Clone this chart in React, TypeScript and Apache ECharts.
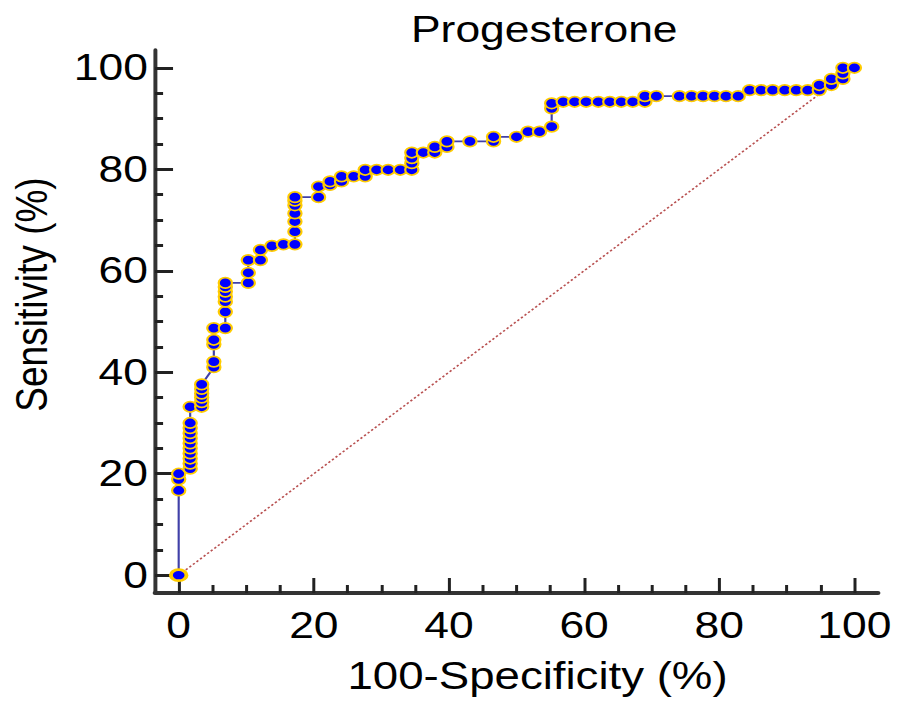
import React, { useEffect, useRef } from "react";
import * as echarts from "echarts";

// 100-Specificity (%) values of the ROC points
const fprValues = [
  0, 0, 0, 0,
  1.7, 1.7, 1.7, 1.7, 1.7, 1.7, 1.7, 1.7, 1.7, 1.7,
  1.7,
  3.4, 3.4, 3.4, 3.4, 3.4, 3.4,
  5.2, 5.2, 5.2, 5.2, 5.2,
  6.9, 6.9, 6.9, 6.9, 6.9, 6.9, 6.9,
  10.3, 10.3, 10.3,
  12.1, 12.1,
  13.8, 15.5,
  17.2, 17.2, 17.2, 17.2, 17.2, 17.2, 17.2,
  20.7, 20.7,
  22.4, 22.4,
  24.1, 24.1,
  25.9, 27.6, 27.6, 29.3, 31.0, 32.8,
  34.5, 34.5, 34.5, 34.5,
  36.2, 37.9, 37.9, 39.7, 39.7,
  43.1, 46.6, 46.6, 50.0, 51.7, 53.4,
  55.2, 55.2, 55.2,
  56.9, 58.6, 60.3, 62.1, 63.8, 65.5, 67.2, 69.0,
  69.0, 70.7,
  74.1, 75.9, 77.6, 79.3, 81.0, 82.8,
  84.5, 86.2, 87.9, 89.7, 91.4, 93.1, 94.8,
  94.8, 96.6, 96.6,
  98.3, 98.3, 98.3,
  100,
];

// Sensitivity (%) values of the ROC points
const tprValues = [
  0, 16.7, 18.9, 20.0,
  21.0, 22.0, 23.0, 24.0, 25.0, 26.0, 27.0, 28.0, 29.0, 30.0,
  33.2,
  33.2, 34.1, 35.0, 35.8, 36.7, 37.6,
  41.0, 42.1, 45.5, 46.4, 48.7,
  48.7, 51.9, 53.9, 54.9, 55.9, 56.8, 57.6,
  57.6, 59.6, 62.1,
  62.1, 64.1,
  64.9, 65.2,
  65.2, 67.7, 69.7, 71.3, 72.9, 73.8, 74.5,
  74.5, 76.6,
  76.9, 77.6,
  77.6, 78.6,
  78.6, 78.6, 79.9, 79.9, 79.9, 79.9,
  79.9, 81.2, 82.2, 83.3,
  83.3, 83.3, 84.4, 84.4, 85.5,
  85.5, 85.5, 86.4, 86.4, 87.4, 87.4,
  88.4, 92.0, 93.0,
  93.3, 93.3, 93.3, 93.3, 93.3, 93.3, 93.3, 93.3,
  94.4, 94.4,
  94.4, 94.4, 94.4, 94.4, 94.4, 94.4,
  95.6, 95.6, 95.6, 95.6, 95.6, 95.6, 95.6,
  96.6, 96.6, 97.8,
  97.8, 98.9, 100,
  100,
];

const referenceLineX = [0, 100];
const referenceLineY = [0, 100];

const xTickLabels = [0, 20, 40, 60, 80, 100];
const yTickLabels = [0, 20, 40, 60, 80, 100];
const minorTickValues = [5, 10, 15, 25, 30, 35, 45, 50, 55, 65, 70, 75, 85, 90, 95];

const ELLIPSE = "path://M0,5A5,5,0,1,1,10,5A5,5,0,1,1,0,5Z";

// The reference picture is horizontally stretched; the chart is drawn
// narrower and widened by this factor.
const STRETCH = 1.2;
const PAGE_W = 909;
const PAGE_H = 705;
const INNER_W = PAGE_W / STRETCH;

export default function App() {
  const ref = useRef<HTMLDivElement>(null);

  useEffect(() => {
    if (!ref.current) return;
    const chart = echarts.init(ref.current, null, {
      renderer: "svg",
      width: INNER_W,
      height: PAGE_H,
    });

    const rocData = fprValues.map((x, i) => {
      if (i === 0) {
        return {
          value: [x, tprValues[i]],
          symbolSize: [13, 11],
          itemStyle: { borderWidth: 3 },
        };
      }
      return { value: [x, tprValues[i]] };
    });
    const diagData = referenceLineX.map((x, i) => [x, referenceLineY[i]]);

    const font = "'Liberation Sans', Arial, sans-serif";

    chart.setOption({
      animation: false,
      backgroundColor: "#ffffff",
      title: {
        text: "Progesterone",
        left: 337.5,
        top: 6,
        textStyle: {
          fontSize: 37,
          fontFamily: font,
          fontWeight: "normal",
          color: "#000",
        },
      },
      grid: {
        left: 129.2,
        right: 25.8,
        top: 50,
        bottom: 112,
        containLabel: false,
        outerBoundsMode: "none",
      },
      xAxis: [
        {
          type: "value",
          min: -3.5,
          max: 103.5,
          position: "bottom",
          axisLine: { show: true, onZero: false, lineStyle: { color: "#333", width: 4 } },
          axisTick: {
            show: true,
            inside: true,
            length: 15,
            customValues: xTickLabels,
            lineStyle: { color: "#222", width: 2.5 },
          },
          axisLabel: {
            customValues: xTickLabels,
            fontSize: 37,
            fontFamily: font,
            color: "#000",
            margin: 14,
          },
          splitLine: { show: false },
          name: "100-Specificity (%)",
          nameLocation: "middle",
          nameGap: 64,
          nameTextStyle: {
            fontSize: 38,
            fontFamily: font,
            color: "#000",
            padding: [0, 0, 0, 35],
          },
        },
        {
          type: "value",
          min: -3.5,
          max: 103.5,
          position: "bottom",
          axisLine: { show: false, onZero: false },
          axisTick: {
            show: true,
            inside: true,
            length: 8,
            customValues: minorTickValues,
            lineStyle: { color: "#222", width: 2.5 },
          },
          axisLabel: { show: false },
          splitLine: { show: false },
        },
      ],
      yAxis: [
        {
          type: "value",
          min: -3.5,
          max: 103.5,
          position: "left",
          axisLine: { show: true, onZero: false, lineStyle: { color: "#333", width: 3.3 } },
          axisTick: {
            show: true,
            inside: true,
            length: 15,
            customValues: yTickLabels,
            lineStyle: { color: "#222", width: 3 },
          },
          axisLabel: {
            customValues: yTickLabels,
            fontSize: 37,
            fontFamily: font,
            color: "#000",
            margin: 6,
          },
          splitLine: { show: false },
          name: "Sensitivity (%)",
          nameLocation: "middle",
          nameGap: 84,
          nameRotate: 90,
          nameTextStyle: {
            fontSize: 37,
            fontFamily: font,
            color: "#000",
            padding: [0, 0, 0, 54],
          },
        },
        {
          type: "value",
          min: -3.5,
          max: 103.5,
          position: "left",
          axisLine: { show: false, onZero: false },
          axisTick: {
            show: true,
            inside: true,
            length: 6.7,
            customValues: minorTickValues,
            lineStyle: { color: "#222", width: 3 },
          },
          axisLabel: { show: false },
          splitLine: { show: false },
        },
      ],
      series: [
        {
          type: "line",
          xAxisIndex: 0,
          yAxisIndex: 0,
          data: diagData,
          showSymbol: false,
          symbol: "none",
          lineStyle: { color: "#b85050", width: 1.5, type: [2, 2] },
          z: 1,
          silent: true,
        },
        {
          type: "line",
          xAxisIndex: 0,
          yAxisIndex: 0,
          data: rocData,
          symbol: ELLIPSE,
          symbolSize: [11, 10.5],
          showAllSymbol: true,
          itemStyle: {
            color: "#0000ff",
            borderColor: "#ffcc00",
            borderWidth: 1.8,
          },
          lineStyle: { color: "#4040a8", width: 1.8 },
          z: 2,
        },
      ],
    });

    return () => chart.dispose();
  }, []);

  return (
    <div
      style={{
        position: "fixed",
        left: 0,
        top: 0,
        width: PAGE_W,
        height: PAGE_H,
        overflow: "hidden",
        background: "#fff",
      }}
    >
      <div
        ref={ref}
        style={{
          width: INNER_W,
          height: PAGE_H,
          transform: `scaleX(${STRETCH})`,
          transformOrigin: "0 0",
        }}
      />
    </div>
  );
}
